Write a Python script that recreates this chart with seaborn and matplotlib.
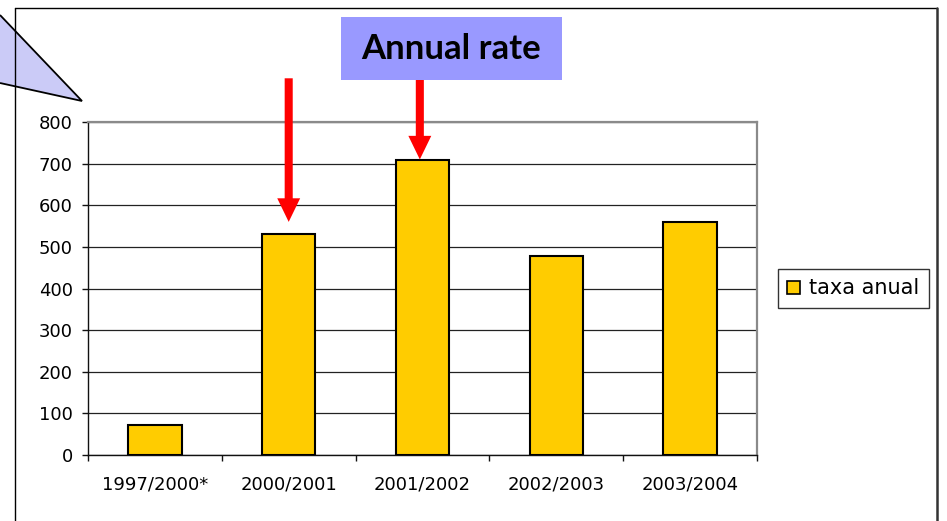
import matplotlib
matplotlib.use("Agg")
import matplotlib.pyplot as plt
import seaborn as sns
from matplotlib.patches import Polygon, Rectangle, Patch
from matplotlib.lines import Line2D
from matplotlib.ticker import FixedLocator

# Data
categories = ["1997/2000*", "2000/2001", "2001/2002", "2002/2003", "2003/2004"]
values = [73, 532, 708, 477, 560]
series_label = "taxa anual"
y_ticks = [0, 100, 200, 300, 400, 500, 600, 700, 800]
headline = "Annual rate"

W, H = 947, 521
sns.set_theme(style="white")
plt.rcParams["font.family"] = ["DejaVu Sans"]
plt.rcParams["text.color"] = "black"

fig = plt.figure(figsize=(W / 100, H / 100), dpi=100)
fig.patch.set_facecolor("white")


def fx(px):
    return px / W


def fy(py):
    return 1 - py / H


ax = fig.add_axes([fx(88), fy(455), fx(757) - fx(88), fy(122) - fy(455)])

sns.barplot(x=categories, y=values, color="#FFCC00", saturation=1,
            edgecolor="black", linewidth=1.5, width=0.4, ax=ax, zorder=3)

ax.set_xlim(-0.5, len(categories) - 0.5)
ax.set_ylim(0, 800)
ax.set_yticks(y_ticks)
ax.set_xlabel("")
ax.set_ylabel("")

# horizontal gridlines
ax.yaxis.grid(True, color="#222222", lw=0.9)
ax.xaxis.grid(False)
ax.set_axisbelow(True)

for side in ["top", "right"]:
    ax.spines[side].set_color("#8a8a8a")
    ax.spines[side].set_linewidth(1.6)
for side in ["left", "bottom"]:
    ax.spines[side].set_color("#111111")
    ax.spines[side].set_linewidth(1.0)

ax.tick_params(axis="y", which="major", direction="out", length=4,
               width=1, color="#111111", pad=7, labelsize=13, labelcolor="black",
               left=True)
ax.tick_params(axis="x", which="major", length=0, pad=15, labelsize=13,
               labelcolor="black")
ax.xaxis.set_minor_locator(FixedLocator([i - 0.5 for i in range(len(categories) + 1)]))
ax.tick_params(axis="x", which="minor", direction="out", length=4, width=1,
               color="#111111", bottom=True)

# legend
handle = Patch(facecolor="#FFCC00", edgecolor="black", linewidth=1.2, label=series_label)
leg = ax.legend(handles=[handle], loc="center left",
                bbox_to_anchor=(fx(778), fy(288.5)), bbox_transform=fig.transFigure,
                frameon=True, fancybox=False, fontsize=15, handlelength=0.6,
                handleheight=0.6, handletextpad=0.45, borderpad=0.45,
                borderaxespad=0, labelcolor="black")
leg.get_frame().set_edgecolor("black")
leg.get_frame().set_linewidth(1.0)

# red arrows pointing at the bars
arrow_style = "simple,head_width=16.5,head_length=17,tail_width=5.8"
ax.annotate("", xy=(1, values[1] + 28), xytext=(1, 905),
            arrowprops=dict(arrowstyle=arrow_style, color="#FF0000", lw=0,
                            shrinkA=0, shrinkB=0, mutation_scale=1),
            annotation_clip=False, zorder=5)
ax.annotate("", xy=(1.98, values[2] + 2), xytext=(1.98, 905),
            arrowprops=dict(arrowstyle=arrow_style, color="#FF0000", lw=0,
                            shrinkA=0, shrinkB=0, mutation_scale=1),
            annotation_clip=False, zorder=5)

# headline box
fig.add_artist(Rectangle((fx(341), fy(80)), fx(562) - fx(341), fy(17) - fy(80),
                         transform=fig.transFigure, facecolor="#9999FF",
                         edgecolor="none", zorder=6))
fig.text(fx(451.5), fy(49), headline, ha="center", va="center",
         family=["Lato", "DejaVu Sans"], weight="bold", fontsize=25,
         color="black", zorder=7)

# callout pointer in the upper-left corner
tri = Polygon([(fx(0), fy(15)), (fx(82), fy(101)), (fx(0), fy(83))],
              closed=False, transform=fig.transFigure, facecolor="#CBCBF7",
              edgecolor="black", linewidth=1.3, zorder=1)
fig.add_artist(tri)

# outer frame
frame_kw = dict(transform=fig.transFigure, color="black", zorder=8)
fig.add_artist(Line2D([fx(15), fx(15)], [fy(8), fy(H + 2)], lw=1.0, **frame_kw))
fig.add_artist(Line2D([fx(15), fx(937)], [fy(8), fy(8)], lw=1.0, **frame_kw))
fig.add_artist(Line2D([fx(937), fx(937)], [fy(8), fy(H + 2)], lw=1.8,
                      transform=fig.transFigure, color="#333333", zorder=8))

fig.savefig("out.png", dpi=100, facecolor="white")
